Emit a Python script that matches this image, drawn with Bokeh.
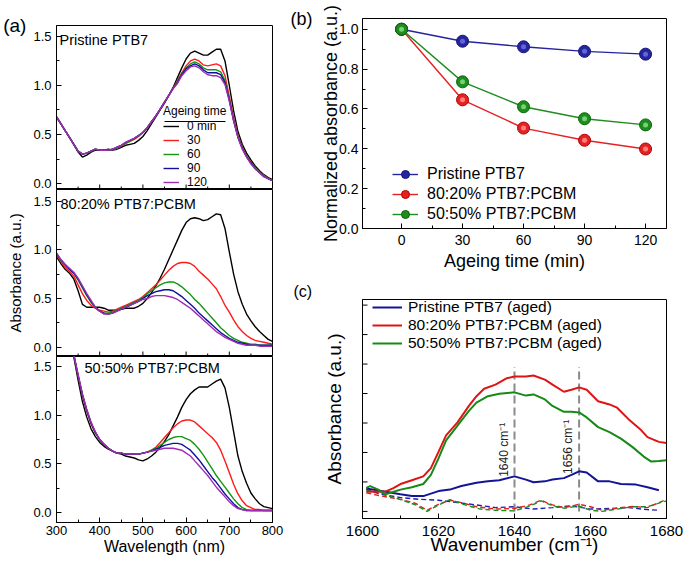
from math import pi
from bokeh.plotting import figure
from bokeh.layouts import row, column
from bokeh.models import (Range1d, FixedTicker, Label, Legend, LegendItem, BoxAnnotation, Title,
                          PrintfTickFormatter, LinearAxis)
from bokeh.embed import file_html
from bokeh.resources import INLINE

FONT = "Liberation Sans"

# ---------------- (a) UV-vis spectra ----------------
wavelength = [300, 310, 320, 330, 340, 350, 360, 370, 380, 390, 400, 410, 420, 430, 440, 450, 460,
              470, 480, 490, 500, 510, 520, 530, 540, 550, 560, 570, 580, 590, 600, 610, 620, 630,
              640, 650, 660, 670, 680, 690, 700, 710, 720, 730, 740, 750, 760, 770, 780, 790, 800]

ageing_labels = ["0 min", "30", "60", "90", "120"]

pristine_0 = [0.68, 0.61, 0.54, 0.47, 0.40, 0.32, 0.27, 0.29, 0.32, 0.34, 0.34, 0.34, 0.35, 0.34, 0.35, 0.37, 0.39,
              0.40, 0.41, 0.44, 0.48, 0.54, 0.61, 0.68, 0.75, 0.82, 0.90, 0.98, 1.08, 1.18, 1.27, 1.33, 1.35, 1.33,
              1.31, 1.31, 1.34, 1.37, 1.37, 1.25, 1.00, 0.74, 0.53, 0.40, 0.31, 0.24, 0.18, 0.13, 0.09, 0.06, 0.04]
pristine_30 = [0.68, 0.61, 0.54, 0.47, 0.40, 0.33, 0.30, 0.31, 0.33, 0.35, 0.34, 0.34, 0.34, 0.35, 0.36, 0.38, 0.41,
               0.43, 0.45, 0.48, 0.52, 0.57, 0.63, 0.69, 0.76, 0.83, 0.90, 0.97, 1.05, 1.13, 1.20, 1.25, 1.27, 1.25,
               1.21, 1.20, 1.21, 1.22, 1.20, 1.10, 0.89, 0.67, 0.49, 0.37, 0.28, 0.22, 0.16, 0.12, 0.08, 0.05, 0.03]
pristine_60 = [0.68, 0.61, 0.54, 0.47, 0.40, 0.33, 0.30, 0.31, 0.33, 0.35, 0.34, 0.34, 0.34, 0.35, 0.36, 0.39, 0.41,
               0.43, 0.46, 0.49, 0.52, 0.57, 0.63, 0.69, 0.76, 0.83, 0.90, 0.97, 1.04, 1.12, 1.18, 1.22, 1.24, 1.22,
               1.18, 1.16, 1.16, 1.16, 1.14, 1.05, 0.86, 0.65, 0.48, 0.36, 0.28, 0.21, 0.16, 0.11, 0.08, 0.05, 0.03]
pristine_90 = [0.68, 0.61, 0.54, 0.47, 0.40, 0.33, 0.30, 0.31, 0.33, 0.35, 0.34, 0.34, 0.34, 0.35, 0.37, 0.39, 0.42,
               0.44, 0.46, 0.49, 0.52, 0.57, 0.63, 0.69, 0.76, 0.83, 0.90, 0.97, 1.03, 1.11, 1.17, 1.20, 1.22, 1.20,
               1.16, 1.13, 1.13, 1.13, 1.11, 1.03, 0.85, 0.64, 0.47, 0.36, 0.27, 0.21, 0.15, 0.11, 0.07, 0.05, 0.03]
pristine_120 = [0.68, 0.61, 0.54, 0.47, 0.40, 0.33, 0.30, 0.31, 0.33, 0.35, 0.34, 0.34, 0.34, 0.35, 0.37, 0.39, 0.42,
                0.44, 0.46, 0.49, 0.52, 0.57, 0.63, 0.69, 0.76, 0.83, 0.90, 0.97, 1.02, 1.10, 1.15, 1.19, 1.20, 1.18,
                1.14, 1.11, 1.10, 1.10, 1.08, 1.01, 0.84, 0.64, 0.47, 0.35, 0.27, 0.20, 0.15, 0.11, 0.07, 0.05, 0.03]

blend8020_0 = [0.93, 0.86, 0.80, 0.76, 0.70, 0.58, 0.44, 0.41, 0.41, 0.41, 0.41, 0.40, 0.38, 0.38, 0.38, 0.39, 0.40,
               0.40, 0.40, 0.42, 0.45, 0.50, 0.56, 0.63, 0.71, 0.80, 0.90, 1.00, 1.10, 1.20, 1.28, 1.32, 1.33, 1.32,
               1.30, 1.31, 1.34, 1.37, 1.36, 1.22, 0.98, 0.75, 0.57, 0.44, 0.34, 0.27, 0.21, 0.16, 0.12, 0.08, 0.06]
blend8020_30 = [0.95, 0.88, 0.82, 0.78, 0.73, 0.64, 0.55, 0.48, 0.43, 0.40, 0.38, 0.37, 0.36, 0.37, 0.39, 0.41, 0.43,
                0.45, 0.47, 0.49, 0.52, 0.56, 0.60, 0.64, 0.69, 0.74, 0.79, 0.83, 0.86, 0.87, 0.87, 0.86, 0.83, 0.78,
                0.74, 0.70, 0.65, 0.60, 0.52, 0.43, 0.36, 0.28, 0.21, 0.16, 0.12, 0.09, 0.07, 0.06, 0.05, 0.04, 0.03]
blend8020_60 = [0.96, 0.89, 0.84, 0.80, 0.76, 0.69, 0.61, 0.53, 0.46, 0.40, 0.37, 0.35, 0.35, 0.36, 0.38, 0.40, 0.42,
                0.44, 0.46, 0.48, 0.51, 0.55, 0.58, 0.61, 0.64, 0.66, 0.67, 0.67, 0.65, 0.62, 0.58, 0.54, 0.49, 0.45,
                0.40, 0.35, 0.30, 0.25, 0.20, 0.16, 0.12, 0.09, 0.07, 0.05, 0.04, 0.03, 0.03, 0.02, 0.02, 0.02, 0.02]
blend8020_90 = [0.96, 0.90, 0.85, 0.80, 0.76, 0.70, 0.62, 0.54, 0.47, 0.41, 0.37, 0.35, 0.34, 0.35, 0.37, 0.39, 0.41,
                0.43, 0.45, 0.47, 0.50, 0.53, 0.55, 0.57, 0.58, 0.59, 0.59, 0.58, 0.55, 0.52, 0.48, 0.44, 0.40, 0.35,
                0.31, 0.27, 0.23, 0.19, 0.15, 0.12, 0.09, 0.07, 0.05, 0.04, 0.03, 0.02, 0.02, 0.02, 0.02, 0.02, 0.02]
blend8020_120 = [0.97, 0.90, 0.85, 0.81, 0.77, 0.71, 0.63, 0.55, 0.48, 0.41, 0.37, 0.34, 0.34, 0.35, 0.37, 0.39, 0.41,
                 0.43, 0.45, 0.47, 0.49, 0.50, 0.52, 0.53, 0.53, 0.53, 0.52, 0.51, 0.49, 0.46, 0.43, 0.40, 0.36, 0.32,
                 0.28, 0.24, 0.20, 0.16, 0.13, 0.10, 0.08, 0.06, 0.04, 0.03, 0.02, 0.02, 0.02, 0.01, 0.01, 0.01, 0.01]

blend5050_0 = [2.40, 2.10, 1.90, 1.75, 1.60, 1.36, 1.14, 0.98, 0.86, 0.78, 0.72, 0.68, 0.65, 0.63, 0.61, 0.60, 0.58,
               0.57, 0.56, 0.54, 0.53, 0.55, 0.58, 0.62, 0.67, 0.73, 0.80, 0.89, 0.98, 1.08, 1.16, 1.22, 1.26, 1.29,
               1.29, 1.29, 1.32, 1.35, 1.37, 1.28, 1.08, 0.83, 0.58, 0.42, 0.30, 0.20, 0.14, 0.09, 0.06, 0.05, 0.04]
blend5050_30 = [2.40, 2.12, 1.92, 1.77, 1.62, 1.40, 1.20, 1.04, 0.91, 0.82, 0.75, 0.70, 0.66, 0.63, 0.61, 0.61, 0.60,
                0.60, 0.60, 0.60, 0.61, 0.62, 0.64, 0.67, 0.72, 0.77, 0.82, 0.87, 0.91, 0.94, 0.95, 0.95, 0.93, 0.89,
                0.85, 0.81, 0.77, 0.72, 0.64, 0.53, 0.41, 0.29, 0.19, 0.12, 0.07, 0.05, 0.03, 0.03, 0.02, 0.02, 0.02]
blend5050_60 = [2.40, 2.12, 1.92, 1.77, 1.62, 1.41, 1.21, 1.05, 0.92, 0.82, 0.75, 0.70, 0.66, 0.63, 0.61, 0.61, 0.60,
                0.60, 0.60, 0.60, 0.61, 0.62, 0.64, 0.66, 0.69, 0.72, 0.75, 0.77, 0.78, 0.78, 0.76, 0.74, 0.70, 0.65,
                0.59, 0.52, 0.45, 0.38, 0.32, 0.26, 0.20, 0.14, 0.09, 0.05, 0.03, 0.02, 0.02, 0.02, 0.02, 0.02, 0.02]
blend5050_90 = [2.40, 2.12, 1.92, 1.77, 1.62, 1.41, 1.21, 1.05, 0.92, 0.82, 0.75, 0.70, 0.66, 0.63, 0.61, 0.61, 0.60,
                0.60, 0.60, 0.60, 0.61, 0.62, 0.63, 0.65, 0.67, 0.69, 0.70, 0.71, 0.71, 0.70, 0.67, 0.64, 0.59, 0.54,
                0.48, 0.42, 0.36, 0.31, 0.25, 0.19, 0.14, 0.09, 0.05, 0.03, 0.02, 0.02, 0.02, 0.02, 0.02, 0.02, 0.02]
blend5050_120 = [2.40, 2.12, 1.92, 1.77, 1.62, 1.42, 1.22, 1.06, 0.93, 0.83, 0.75, 0.70, 0.66, 0.63, 0.61, 0.61, 0.60,
                 0.60, 0.60, 0.60, 0.61, 0.62, 0.63, 0.64, 0.65, 0.66, 0.66, 0.66, 0.65, 0.64, 0.61, 0.58, 0.53, 0.48,
                 0.43, 0.38, 0.32, 0.26, 0.21, 0.16, 0.11, 0.07, 0.04, 0.03, 0.02, 0.02, 0.02, 0.02, 0.02, 0.02, 0.02]

wl_ticks = [300, 400, 500, 600, 700, 800]
wl_minor = [350, 450, 550, 650, 750]
abs_ticks = [0.0, 0.5, 1.0, 1.5]
abs_minor = [0.25, 0.75, 1.25]

# ---------------- (b) normalized absorbance ----------------
ageing_time = [0, 30, 60, 90, 120]
norm_pristine = [1.0, 0.940, 0.912, 0.889, 0.875]
norm_8020 = [1.0, 0.646, 0.504, 0.443, 0.399]
norm_5050 = [1.0, 0.736, 0.611, 0.551, 0.520]
time_ticks = [0, 30, 60, 90, 120]
time_minor = [15, 45, 75, 105]
norm_ticks = [0.0, 0.2, 0.4, 0.6, 0.8, 1.0]
norm_minor = [0.1, 0.3, 0.5, 0.7, 0.9]

# ---------------- (c) FTIR ----------------
wn_red = [1601, 1603, 1606, 1608, 1610, 1613, 1616, 1618, 1620, 1622, 1625, 1628, 1630, 1632, 1635, 1638, 1640,
          1643, 1645, 1648, 1650, 1653, 1655, 1657, 1659, 1662, 1665, 1667, 1670, 1673, 1675, 1678, 1680]
ir_red = [0.67, 0.68, 0.67, 0.78, 0.93, 1.06, 1.19, 1.47, 2.02, 2.58, 3.02, 3.58, 3.91, 4.16, 4.30, 4.52, 4.58,
          4.58, 4.61, 4.47, 4.30, 4.06, 4.13, 4.21, 4.13, 3.74, 3.63, 3.52, 3.13, 2.80, 2.52, 2.36, 2.32]
wn_green = [1601, 1602, 1604, 1606, 1608, 1610, 1613, 1616, 1618, 1620, 1622, 1625, 1628, 1630, 1633, 1636, 1640,
            1643, 1645, 1648, 1650, 1653, 1655, 1657, 1659, 1662, 1665, 1668, 1671, 1674, 1676, 1678, 1680]
ir_green = [0.80, 0.86, 0.75, 0.58, 0.66, 0.74, 0.82, 0.93, 1.24, 1.80, 2.41, 2.91, 3.41, 3.69, 3.91, 3.99, 4.04,
            3.93, 3.97, 3.80, 3.58, 3.38, 3.38, 3.36, 3.19, 2.86, 2.69, 2.47, 2.19, 1.86, 1.69, 1.71, 1.74]
wn_blue = [1601, 1605, 1610, 1613, 1616, 1620, 1623, 1626, 1630, 1633, 1636, 1640, 1643, 1645, 1648, 1650, 1653,
           1655, 1657, 1659, 1662, 1665, 1668, 1672, 1675, 1678]
ir_blue = [0.78, 0.69, 0.58, 0.52, 0.52, 0.69, 0.74, 0.86, 0.97, 1.02, 1.06, 1.19, 1.08, 0.99, 1.02, 1.08, 1.13,
           1.24, 1.36, 1.32, 1.02, 1.02, 0.93, 0.91, 0.82, 0.72]
wn_red_fresh = [1601, 1605, 1610, 1614, 1617, 1620, 1623, 1626, 1630, 1635, 1640, 1644, 1647, 1650, 1653, 1657,
                1660, 1663, 1667, 1671, 1675, 1680]
ir_red_fresh = [0.63, 0.52, 0.41, 0.27, 0.04, 0.24, 0.38, 0.30, 0.16, 0.08, 0.10, 0.22, 0.38, 0.22, 0.13, 0.24,
                0.16, 0.04, 0.11, 0.17, 0.13, 0.41]
wn_green_fresh = [1601, 1603, 1607, 1611, 1614, 1617, 1620, 1623, 1627, 1631, 1635, 1640, 1644, 1647, 1650, 1653,
                  1657, 1660, 1663, 1667, 1671, 1675, 1680]
ir_green_fresh = [0.71, 0.74, 0.52, 0.36, 0.22, 0.00, 0.22, 0.40, 0.22, 0.08, 0.04, 0.02, 0.18, 0.36, 0.19, 0.11,
                  0.18, 0.04, 0.00, 0.08, 0.16, 0.16, 0.36]
wn_blue_fresh = [1601, 1605, 1610, 1615, 1620, 1625, 1630, 1635, 1640, 1645, 1650, 1655, 1660, 1665, 1670, 1675, 1678]
ir_blue_fresh = [0.74, 0.58, 0.47, 0.41, 0.38, 0.30, 0.22, 0.13, 0.16, 0.08, 0.13, 0.19, 0.08, 0.10, 0.13, 0.06, 0.04]
peak_positions = [1640, 1657]
peak_labels = ["1640 cm\u207b\u00b9", "1656 cm\u207b\u00b9"]
peak_label_y = [2.09, 2.19]
peak_line_top = [4.9, 4.9]
peak_line_bottom = [0.0, 0.0]
wn_ticks = [1600, 1620, 1640, 1660, 1680]
wn_minor = [1610, 1630, 1650, 1670]
ir_ticks = [0, 1, 2, 3, 4, 5, 6, 7]

AGE_COLORS = ["#000000", "#ff1a1a", "#129612", "#10109c", "#a02cb4"]


def make_fig(w, h, xr, yr, bl, br, bt, bb):
    p = figure(width=w, height=h, x_range=Range1d(*xr), y_range=Range1d(*yr),
               output_backend="svg", toolbar_location=None,
               min_border_left=bl, min_border_right=br, min_border_top=bt, min_border_bottom=bb)
    p.xgrid.visible = False
    p.ygrid.visible = False
    p.outline_line_color = "black"
    p.outline_line_width = 1
    p.outline_line_alpha = 1
    p.background_fill_color = "white"
    p.border_fill_color = "white"
    for ax in p.axis:
        ax.axis_line_color = "black"
        ax.major_tick_in = 5
        ax.major_tick_out = 0
        ax.minor_tick_in = 3
        ax.minor_tick_out = 0
        ax.major_tick_line_color = "black"
        ax.minor_tick_line_color = "black"
        ax.major_label_text_font = FONT
        ax.major_label_text_color = "black"
        ax.axis_label_text_font = FONT
        ax.axis_label_text_color = "black"
        ax.axis_label_text_font_style = "normal"
    return p


def add_label(p, x, y, text, size, align="left", baseline="middle"):
    p.add_layout(Label(x=x, y=y, x_units="screen", y_units="screen", text=text, text_font=FONT,
                       text_font_size=size, text_align=align, text_baseline=baseline, text_color="black"))


def add_letter_title(p, text, offset, size):
    t = Title(text=text, align="left", offset=offset, text_font=FONT, text_font_size=size,
              text_font_style="normal", text_color="black", vertical_align="bottom")
    try:
        t.standoff = 0
    except Exception:
        pass
    p.add_layout(t, "above")


def add_letter_axis(p, text, size, standoff):
    """Panel letter as a horizontal label at the top end of an extra, tick-less left axis."""
    try:
        ax = LinearAxis(ticker=FixedTicker(ticks=[]), axis_line_color=None,
                        major_tick_line_color=None, minor_tick_line_color=None)
        ax.axis_label_orientation = "horizontal"
        ax.axis_label_align = "end"
        ax.axis_label = text
        ax.axis_label_text_font = FONT
        ax.axis_label_text_font_size = size
        ax.axis_label_text_font_style = "normal"
        ax.axis_label_text_color = "black"
        ax.axis_label_standoff = standoff
        ax.major_label_standoff = 0
        p.add_layout(ax, "left")
        return True
    except Exception:
        return False


panels_a = [
    ("Pristine PTB7", [pristine_0, pristine_30, pristine_60, pristine_90, pristine_120], 189, 25, 0, (-0.061, 1.612)),
    ("80:20% PTB7:PCBM", [blend8020_0, blend8020_30, blend8020_60, blend8020_90, blend8020_120], 167, 0, 0, (-0.096, 1.620)),
    ("50:50% PTB7:PCBM", [blend5050_0, blend5050_30, blend5050_60, blend5050_90, blend5050_120], 208, 0, 42, (-0.103, 1.603)),
]
text_pos = [(3, 150), (4, 153), (28, 155)]

figs_a = []
for i, (name, series, h, bt, bb, yr) in enumerate(panels_a):
    p = make_fig(285, h, (300, 800), yr, 55, 13, bt, bb)
    p.xaxis.ticker = FixedTicker(ticks=wl_ticks, minor_ticks=wl_minor)
    p.yaxis.ticker = FixedTicker(ticks=abs_ticks, minor_ticks=abs_minor)
    p.yaxis.formatter = PrintfTickFormatter(format="%.1f")
    p.yaxis.major_label_text_font_size = "13px"
    p.yaxis.major_label_standoff = 5
    rends = []
    for s, c in zip(series, AGE_COLORS):
        r = p.line(wavelength, s, line_color=c, line_width=1.4)
        rends.append(r)
    if i < 2:
        # the shared wavelength axis only shows its tick marks on the upper panels
        p.xaxis.visible = False
        p.scatter(wl_ticks, [yr[0]] * len(wl_ticks), marker="dash", angle=pi / 2, size=10,
                  line_color="black", line_width=1)
        p.scatter(wl_minor, [yr[0]] * len(wl_minor), marker="dash", angle=pi / 2, size=6,
                  line_color="black", line_width=1)
    else:
        p.xaxis.major_label_text_font_size = "13px"
        p.xaxis.major_label_standoff = 3
        p.xaxis.axis_label = "Wavelength (nm)"
        p.xaxis.axis_label_text_font_size = "16px"
        p.xaxis.axis_label_standoff = 0
    add_label(p, text_pos[i][0], text_pos[i][1], name, "14.5px")
    if i == 0:
        leg = Legend(items=[LegendItem(label=l, renderers=[r]) for l, r in zip(ageing_labels, rends)],
                     location=(107, 0), title="Ageing time")
        leg.title_text_font = FONT
        leg.title_text_font_size = "12px"
        leg.title_text_font_style = "normal"
        leg.title_text_color = "black"
        leg.title_standoff = 1
        leg.label_text_font = FONT
        leg.label_text_font_size = "12px"
        leg.label_text_color = "black"
        leg.glyph_width = 16
        leg.glyph_height = 12
        leg.label_height = 12
        leg.label_standoff = 8
        leg.spacing = 0
        leg.padding = 0
        leg.margin = 0
        leg.border_line_color = None
        leg.background_fill_alpha = 0
        p.add_layout(leg)
        p.add_layout(BoxAnnotation(left=108, right=169, bottom=67.5, top=68.5, left_units="screen",
                                   right_units="screen", bottom_units="screen", top_units="screen",
                                   fill_color="black", fill_alpha=1, line_color=None))
        placed = False
        try:
            p.yaxis.axis_label_orientation = "horizontal"
            p.yaxis.axis_label_align = "end"
            p.yaxis.axis_label = "(a)"
            p.yaxis.axis_label_text_font_size = "19px"
            p.yaxis.axis_label_standoff = 4
            placed = True
        except Exception:
            p.yaxis.axis_label = None
        if not placed:
            add_letter_title(p, "(a)", -54, "18px")
    if i == 1:
        p.yaxis.axis_label = "Absorbance (a.u.)"
        p.yaxis.axis_label_text_font_size = "15px"
        p.yaxis.axis_label_standoff = 6
    figs_a.append(p)

# ---------------- (b) ----------------
pb = make_fig(400, 280, (-19.2, 130.3), (0, 1.054), 77, 19, 18, 52)
pb.xaxis.ticker = FixedTicker(ticks=time_ticks, minor_ticks=time_minor)
pb.yaxis.ticker = FixedTicker(ticks=norm_ticks, minor_ticks=norm_minor)
pb.yaxis.formatter = PrintfTickFormatter(format="%.1f")
pb.xaxis.major_label_text_font_size = "14px"
pb.yaxis.major_label_text_font_size = "14px"
pb.xaxis.major_label_standoff = 6
pb.yaxis.major_label_standoff = 4
pb.xaxis.axis_label = "Ageing time (min)"
pb.yaxis.axis_label = "Normalized absorbance (a.u.)"
pb.xaxis.axis_label_text_font_size = "18px"
pb.yaxis.axis_label_text_font_size = "18px"
pb.xaxis.axis_label_standoff = 3
pb.yaxis.axis_label_standoff = -5

b_series = [("Pristine PTB7", norm_pristine, "#25259e", "#141478", "#6a6ae0"),
            ("80:20% PTB7:PCBM", norm_8020, "#e52222", "#b00000", "#ff8a8a"),
            ("50:50% PTB7:PCBM", norm_5050, "#1e8c1e", "#0a640a", "#7ada7a")]
b_items = []
for name, vals, lc, dark, light in b_series:
    lr = pb.line(ageing_time, vals, line_color=lc, line_width=1.4)
    cr = pb.scatter(ageing_time, vals, size=12, fill_color=lc, line_color=dark, line_width=1)
    pb.scatter(ageing_time, vals, size=5, fill_color=light, line_color=None, fill_alpha=0.9)
    b_items.append(LegendItem(label=name, renderers=[lr, cr]))
legb = Legend(items=b_items, location=(30, 4))
legb.label_text_font = FONT
legb.label_text_font_size = "16px"
legb.label_text_color = "black"
legb.glyph_width = 26
legb.glyph_height = 20
legb.label_height = 20
legb.label_standoff = 9
legb.spacing = 0
legb.padding = 0
legb.margin = 0
legb.border_line_color = None
legb.background_fill_alpha = 0
pb.add_layout(legb)
if not add_letter_axis(pb, "(b)", "18px", 6):
    add_letter_title(pb, "(b)", -69, "16px")

# ---------------- (c) ----------------
pc = make_fig(400, 284, (1600, 1680), (-0.24, 7.19), 77, 18, 15, 46)
pc.xaxis.ticker = FixedTicker(ticks=wn_ticks, minor_ticks=wn_minor)
pc.yaxis.ticker = FixedTicker(ticks=[])
pc.xaxis.major_label_text_font_size = "15px"
pc.xaxis.major_label_standoff = 7
pc.xaxis.axis_label = "Wavenumber (cm\u207b\u00b9)"
pc.xaxis.axis_label_text_font_size = "19px"
pc.xaxis.axis_label_standoff = -5
pc.yaxis.axis_label = "Absorbance (a.u.)"
pc.yaxis.axis_label_text_font_size = "19px"
pc.yaxis.axis_label_standoff = 18
pc.yaxis.major_label_standoff = 0
# arbitrary-unit ticks without labels
pc.scatter([1600] * len(ir_ticks), ir_ticks, marker="dash", size=10, line_color="black", line_width=1)

pc.segment(x0=peak_positions, y0=peak_line_bottom, x1=peak_positions, y1=peak_line_top,
           line_color="#8a8a8a", line_width=2, line_dash="8 4")
for xw, yv, c in [(wn_blue_fresh, ir_blue_fresh, "#2020b0"), (wn_red_fresh, ir_red_fresh, "#e02020"),
                  (wn_green_fresh, ir_green_fresh, "#1a901a")]:
    pc.line(xw, yv, line_color=c, line_width=1.4, line_dash="5 3")
c_items = []
for name, xw, yv, c in [("Pristine PTB7 (aged)", wn_blue, ir_blue, "#141496"),
                        ("80:20% PTB7:PCBM (aged)", wn_red, ir_red, "#e01414"),
                        ("50:50% PTB7:PCBM (aged)", wn_green, ir_green, "#158a15")]:
    r = pc.line(xw, yv, line_color=c, line_width=2)
    c_items.append(LegendItem(label=name, renderers=[r]))
legc = Legend(items=c_items, location=(10, 166))
legc.label_text_font = FONT
legc.label_text_font_size = "15.5px"
legc.label_text_color = "black"
legc.glyph_width = 30
legc.glyph_height = 18
legc.label_height = 18
legc.label_standoff = 6
legc.spacing = 0
legc.padding = 0
legc.margin = 0
legc.border_line_color = None
legc.background_fill_alpha = 0
pc.add_layout(legc)
for xp, txt, yl in zip(peak_positions, peak_labels, peak_label_y):
    pc.add_layout(Label(x=xp, y=yl, x_offset=-4, text=txt, text_font=FONT, text_font_size="12px",
                        angle=pi / 2, text_align="center", text_baseline="bottom", text_color="#222222"))
add_letter_title(pc, "(c)", -69, "16px")

layout = row(column(*figs_a, spacing=0), column(pb, pc, spacing=0), spacing=0)
open("out.html", "w").write(file_html(layout, INLINE))
